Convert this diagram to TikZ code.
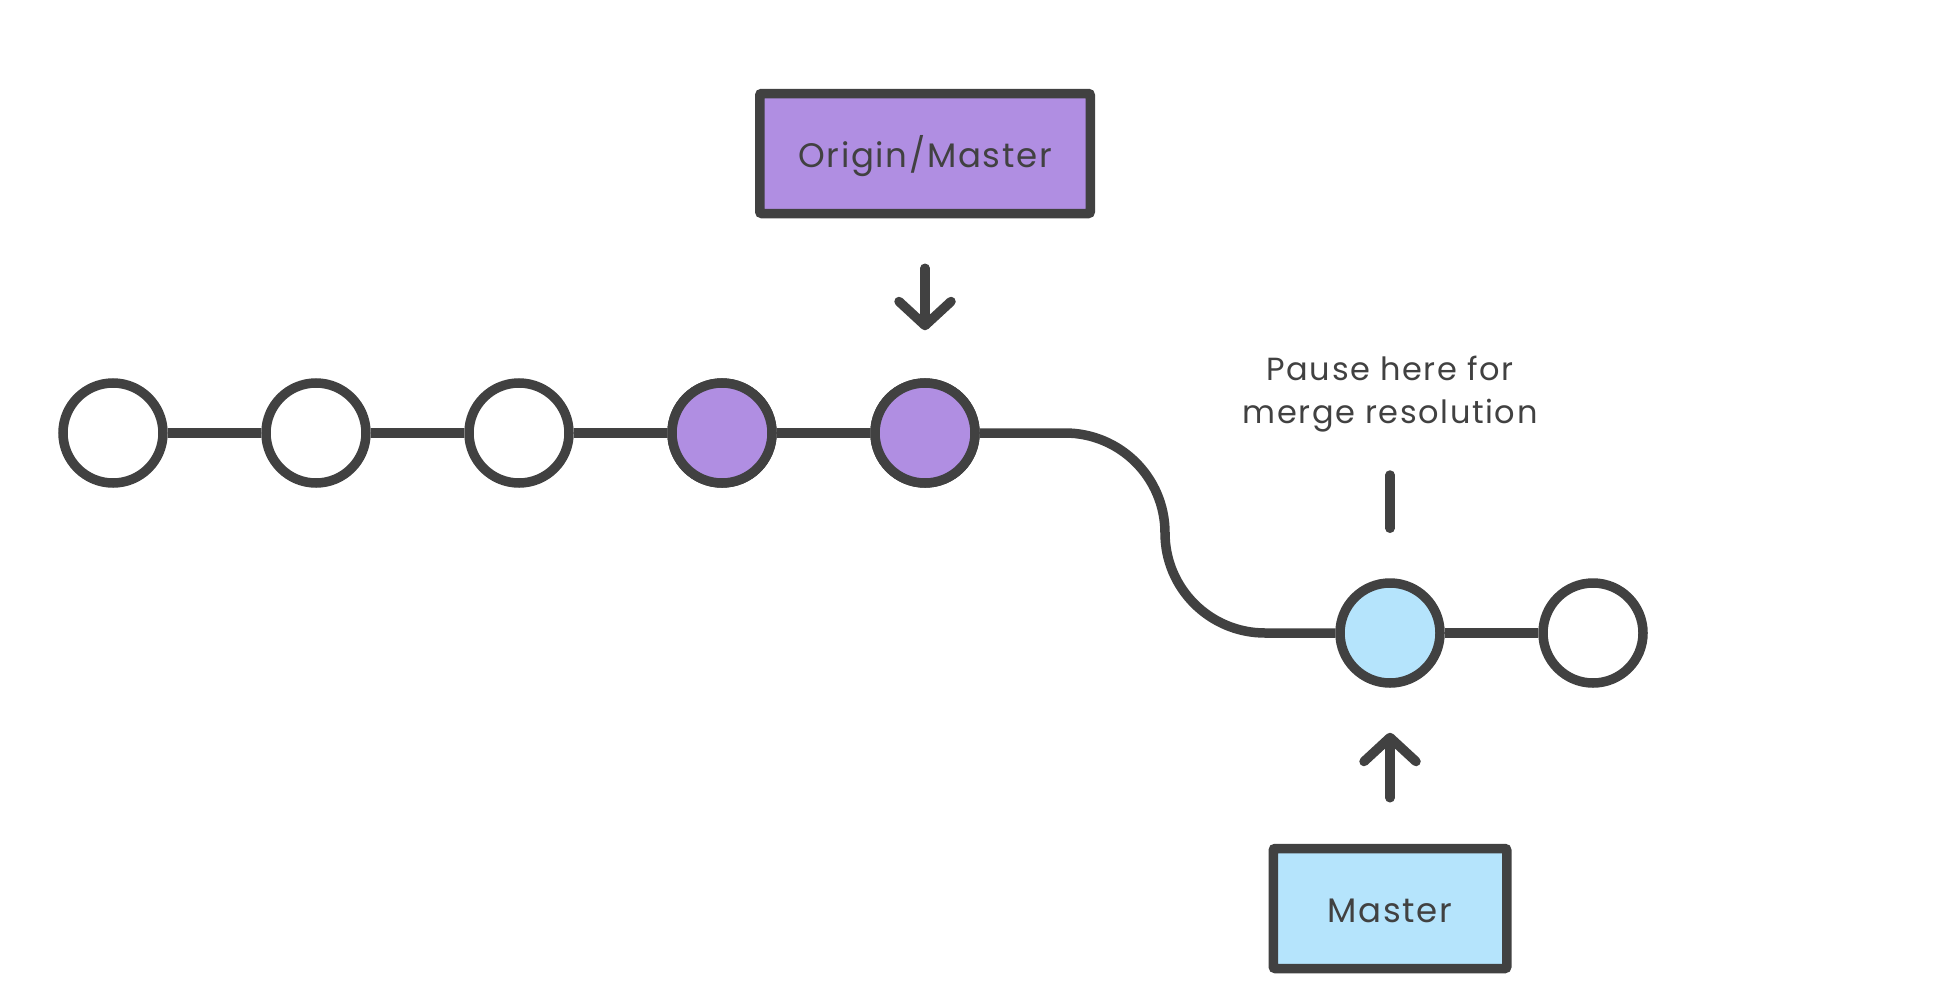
\documentclass[tikz,border=0pt]{standalone}
\usepackage{xcolor}
\usepackage{fontspec}
\setmainfont[LetterSpace=5]{Poppins}
\usepackage{tikz}
\usetikzlibrary{arrows.meta, positioning}

\definecolor{ink}{HTML}{414141}
\definecolor{commitpurple}{HTML}{B08EE2}
\definecolor{commitblue}{HTML}{B5E4FC}

\tikzset{
    commit/.style={draw=ink, circle, line width=9.5pt, fill=white, minimum size=100pt, inner sep=0pt},
    branchbox/.style={draw=ink, rectangle, line width=9.5pt, rounded corners=2pt, minimum height=120pt, text=ink, text height=27pt, text depth=0pt, font=\fontsize{34}{40}\selectfont},
    link/.style={draw=ink, line width=9.5pt},
    pointer/.style={draw=ink, line width=9.5pt, line cap=round, -{Straight Barb[length=24pt, width=52pt, round]}},
}

\begin{document}
\begin{tikzpicture}[x=1pt, y=-1pt]
    \useasboundingbox (0,0) rectangle (1950,990);

    \foreach \i/\x in {1/113, 2/316, 3/519, 4/722, 5/925} {
        \node[commit] (c\i) at (\x,433) {};
    }
    \node[commit, fill=commitpurple] at (c4) {};
    \node[commit, fill=commitpurple] at (c5) {};
    \node[commit, fill=commitblue] (c6) at (1390,633) {};
    \node[commit] (c7) at (1593,633) {};

    \draw[link] (c1) -- (c2);
    \draw[link] (c2) -- (c3);
    \draw[link] (c3) -- (c4);
    \draw[link] (c4) -- (c5);
    \draw[link] (c6) -- (c7);
    \coordinate (dropTop) at (1165,433);
    \coordinate (dropBot) at (1165,633);
    \draw[link, rounded corners=100pt] (c5.east) -- (dropTop) -- (dropBot) -- (c6.west);

    \node[branchbox, fill=commitpurple, minimum width=330.5pt, above=160pt of c5] (origin) {Origin/Master};
    \node[branchbox, fill=commitblue, minimum width=233.5pt, below=156pt of c6] (master) {Master};

    \draw[pointer, shorten <=50pt, shorten >=48pt] (origin) -- (c5);
    \draw[pointer, shorten <=46pt, shorten >=45pt] (master) -- (c6);

    \node[text=ink, align=center, font=\fontsize{32}{43}\selectfont] (pause) at (1390,394) {Pause here for\\merge resolution};
    \coordinate (pauseTick) at (1390,475);
    \draw[link, line cap=round, shorten >=50pt] (pauseTick) -- (c6);
\end{tikzpicture}
\end{document}
